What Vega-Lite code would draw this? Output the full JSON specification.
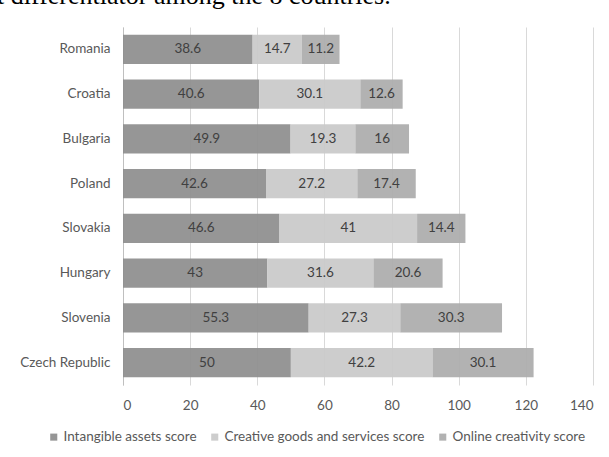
{
  "$schema": "https://vega.github.io/schema/vega-lite/v6.json",
  "width": 470,
  "height": 358,
  "autosize": {"type": "none"},
  "padding": {"left": 123, "top": 27, "right": 16, "bottom": 72},
  "background": "white",
  "title": {
    "text": "t differentiator among the 8 countries.",
    "anchor": "start",
    "frame": "group",
    "font": "Liberation Serif",
    "fontSize": 26,
    "fontWeight": "normal",
    "color": "black",
    "baseline": "alphabetic",
    "offset": 18,
    "dx": -126,
    "dy": 21
  },
  "config": {
    "view": {"stroke": null},
    "font": "Lato"
  },
  "data": {
    "values": [
      {"country": "Romania", "series": "Intangible assets score", "value": 38.6},
      {"country": "Romania", "series": "Creative goods and services score", "value": 14.7},
      {"country": "Romania", "series": "Online creativity score", "value": 11.2},
      {"country": "Croatia", "series": "Intangible assets score", "value": 40.6},
      {"country": "Croatia", "series": "Creative goods and services score", "value": 30.1},
      {"country": "Croatia", "series": "Online creativity score", "value": 12.6},
      {"country": "Bulgaria", "series": "Intangible assets score", "value": 49.9},
      {"country": "Bulgaria", "series": "Creative goods and services score", "value": 19.3},
      {"country": "Bulgaria", "series": "Online creativity score", "value": 16},
      {"country": "Poland", "series": "Intangible assets score", "value": 42.6},
      {"country": "Poland", "series": "Creative goods and services score", "value": 27.2},
      {"country": "Poland", "series": "Online creativity score", "value": 17.4},
      {"country": "Slovakia", "series": "Intangible assets score", "value": 46.6},
      {"country": "Slovakia", "series": "Creative goods and services score", "value": 41},
      {"country": "Slovakia", "series": "Online creativity score", "value": 14.4},
      {"country": "Hungary", "series": "Intangible assets score", "value": 43},
      {"country": "Hungary", "series": "Creative goods and services score", "value": 31.6},
      {"country": "Hungary", "series": "Online creativity score", "value": 20.6},
      {"country": "Slovenia", "series": "Intangible assets score", "value": 55.3},
      {"country": "Slovenia", "series": "Creative goods and services score", "value": 27.3},
      {"country": "Slovenia", "series": "Online creativity score", "value": 30.3},
      {"country": "Czech Republic", "series": "Intangible assets score", "value": 50},
      {"country": "Czech Republic", "series": "Creative goods and services score", "value": 42.2},
      {"country": "Czech Republic", "series": "Online creativity score", "value": 30.1}
    ]
  },
  "transform": [
    {"stack": "value", "groupby": ["country"], "as": ["x0", "x1"]},
    {"calculate": "(datum.x0 + datum.x1) / 2", "as": "xmid"}
  ],
  "encoding": {
    "y": {
      "field": "country",
      "type": "nominal",
      "sort": ["Romania", "Croatia", "Bulgaria", "Poland", "Slovakia", "Hungary", "Slovenia", "Czech Republic"],
      "scale": {"paddingInner": 0.35, "paddingOuter": 0.175},
      "axis": {
        "title": null,
        "domain": true,
        "domainColor": "#bfbfbf",
        "ticks": false,
        "labelFontSize": 13.5,
        "labelColor": "#595959",
        "labelPadding": 13
      }
    }
  },
  "layer": [
    {
      "mark": {"type": "bar", "opacity": 0.93},
      "encoding": {
        "x": {
          "field": "x0",
          "type": "quantitative",
          "scale": {"domain": [0, 140], "nice": false},
          "axis": {
            "title": null,
            "values": [0, 20, 40, 60, 80, 100, 120, 140],
            "domain": false,
            "ticks": false,
            "grid": true,
            "gridColor": "#d9d9d9",
            "zindex": 0,
            "labelFontSize": 13.5,
            "labelColor": "#595959",
            "labelPadding": 13
          }
        },
        "x2": {"field": "x1"},
        "color": {
          "field": "series",
          "type": "nominal",
          "scale": {
            "domain": ["Intangible assets score", "Creative goods and services score", "Online creativity score"],
            "range": ["#8e8e8e", "#c9c9c9", "#acacac"]
          },
          "legend": {
            "title": null,
            "orient": "none",
            "direction": "horizontal",
            "legendX": -76,
            "legendY": 403,
            "symbolType": "square",
            "symbolSize": 50,
            "symbolStrokeWidth": 0,
            "labelFontSize": 13.5,
            "labelColor": "#595959",
            "labelLimit": 0,
            "columnPadding": 11,
            "labelOffset": 3
          }
        }
      }
    },
    {
      "mark": {"type": "text", "fontSize": 13.5, "color": "#404040", "align": "center", "baseline": "middle"},
      "encoding": {
        "x": {"field": "xmid", "type": "quantitative"},
        "text": {"field": "value", "type": "quantitative"}
      }
    }
  ]
}
